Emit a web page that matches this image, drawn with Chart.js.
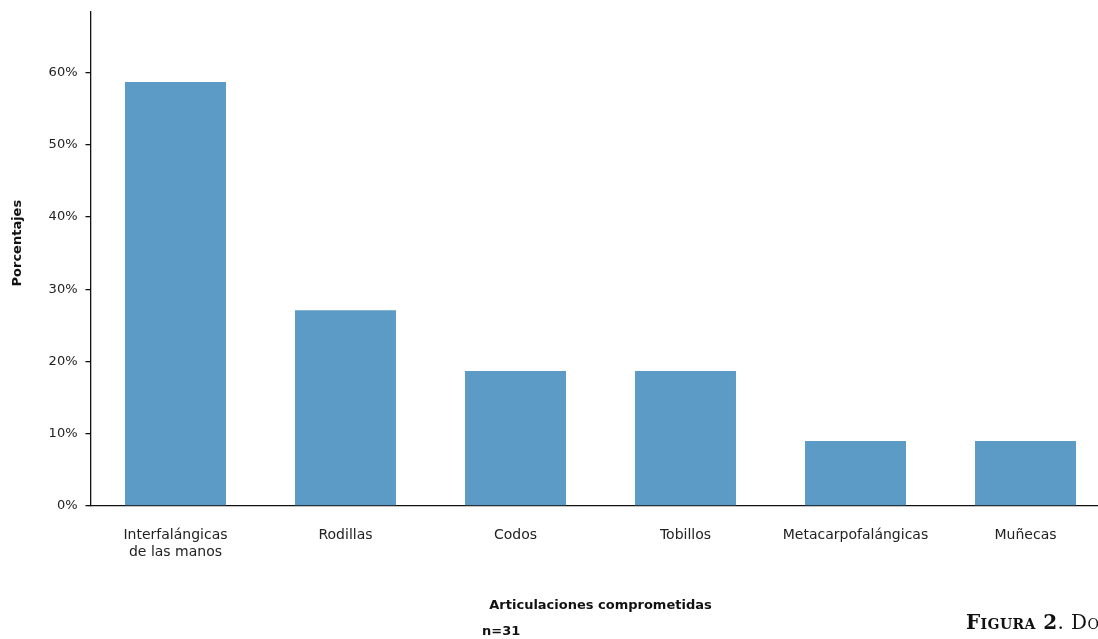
<!DOCTYPE html>
<html>
<head>
<meta charset="utf-8">
<script src="https://cdn.jsdelivr.net/npm/chart.js@4"></script>
<style>
  body { margin: 0; overflow: hidden; background: #fff; }
  #wrap { position: relative; width: 1098px; height: 639px; overflow: hidden; }
  #myChart { position: absolute; left: 0; top: 0; }
  #note { position: absolute; left: 482px; top: 623px; font: bold 13px "DejaVu Sans", sans-serif; color: #111; }
  #caption { position: absolute; left: 966px; top: 610px; white-space: nowrap; letter-spacing: 0.4px;
    font: 20px "DejaVu Serif", serif; font-variant: small-caps; color: #111; }
  #caption b { font-weight: bold; }
</style>
</head>
<body>
<div id="wrap">
  <canvas id="myChart" width="1120" height="639"></canvas>
  <div id="note">n=31</div>
  <div id="caption"><b>Figura 2</b>. Do</div>
</div>
<script>
const categories = [
  ["Interfalángicas", "de las manos"],
  "Rodillas",
  "Codos",
  "Tobillos",
  "Metacarpofalángicas",
  "Muñecas"
];
const porcentajes = [58.7, 27.1, 18.7, 18.7, 9.0, 9.0];
const yTicks = [0, 10, 20, 30, 40, 50, 60];

var ctx = document.getElementById("myChart").getContext("2d");
var myChart = new Chart(ctx, {
  type: "bar",
  data: {
    labels: categories,
    datasets: [
      {
        data: porcentajes,
        backgroundColor: "#5b9bc5",
        categoryPercentage: 1,
        barPercentage: 0.594,
      },
    ],
  },
  options: {
    responsive: false,
    animation: false,
    layout: {
      padding: { top: 12, right: 9.5, bottom: 0, left: 0 },
    },
    plugins: {
      legend: { display: false },
      tooltip: { enabled: false },
    },
    scales: {
      x: {
        grid: { display: false, drawTicks: false },
        border: { display: true, color: "#111", width: 1.3 },
        ticks: {
          color: "#222",
          padding: 21,
          maxRotation: 0,
          autoSkip: false,
          font: { family: "DejaVu Sans", size: 14, lineHeight: 1.22 },
        },
        title: {
          display: true,
          text: "Articulaciones comprometidas",
          color: "#111",
          padding: { top: 0, bottom: 26 },
          font: { family: "DejaVu Sans", size: 13, weight: "bold" },
        },
        afterFit: function (scale) { scale.height = 133; },
      },
      y: {
        min: 0,
        max: 68.4,
        grid: {
          display: true,
          drawOnChartArea: false,
          drawTicks: true,
          tickLength: 5,
          color: "#111",
          lineWidth: 1.3,
        },
        border: { display: true, color: "#111", width: 1.3 },
        afterBuildTicks: function (scale) {
          scale.ticks = yTicks.map(v => ({ value: v }));
        },
        ticks: {
          color: "#222",
          padding: 8,
          font: { family: "DejaVu Sans", size: 13 },
          callback: function (v) { return v + "%"; },
        },
        title: {
          display: true,
          text: "       Porcentajes",
          color: "#111",
          padding: { top: 10, bottom: 0 },
          font: { family: "DejaVu Sans", size: 13, weight: "bold" },
        },
        afterFit: function (scale) {
          scale.width = 90.5;
          scale.paddingTop = 0;
          scale.paddingBottom = 0;
        },
      },
    },
  },
});
</script>
</body>
</html>
